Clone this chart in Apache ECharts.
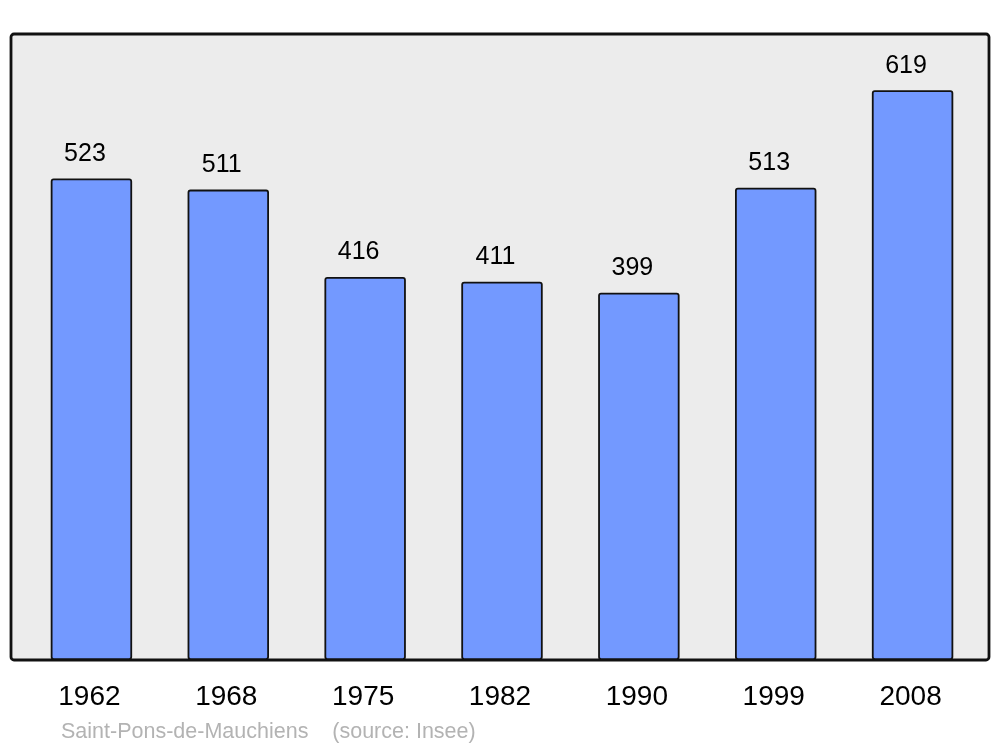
<!DOCTYPE html>
<html>
<head>
<meta charset="utf-8">
<script src="https://cdn.jsdelivr.net/npm/echarts@6/dist/echarts.min.js"></script>
<style>html,body{margin:0;padding:0;background:#fff;}#c{width:1000px;height:747px;}</style>
</head>
<body>
<div id="c"></div>
<script>
const categories = ['1962','1968','1975','1982','1990','1999','2008'];
const population = [523, 511, 416, 411, 399, 513, 619];
const footerText = 'Saint-Pons-de-Mauchiens    (source: Insee)';

const chart = echarts.init(document.getElementById('c'), null, {renderer: 'canvas'});
chart.setOption({
  backgroundColor: '#ffffff',
  animation: false,
  textStyle: {fontFamily: 'Liberation Sans, Arial, sans-serif'},
  graphic: [
    {type: 'rect', z: -10, shape: {x: 11, y: 34, width: 978, height: 626, r: 3},
     style: {fill: '#ececec', stroke: '#111', lineWidth: 2.8}},
    {type: 'text', left: 61, top: 721, z: 10,
     style: {text: footerText, fill: '#b3b3b3', font: '21.5px "Liberation Sans", Arial, sans-serif'}}
  ],
  grid: {left: 23, right: 19, top: 34, bottom: 87, containLabel: false},
  xAxis: {
    type: 'category', data: categories,
    axisLine: {show: false}, axisTick: {show: false},
    axisLabel: {color: '#000', fontSize: 28, margin: 23, fontFamily: 'Liberation Sans',
      padding: [0, 4, 0, 0]}
  },
  yAxis: {
    type: 'value', min: 0, max: 680,
    show: false, splitLine: {show: false}
  },
  series: [{
    type: 'bar', data: population, barWidth: '59.5%',
    itemStyle: {color: '#7399ff', borderColor: '#111', borderWidth: 1.8, borderRadius: 2},
    label: {show: true, position: 'top', distance: 12, offset: [-6.5, 0], color: '#000', fontSize: 25, fontFamily: 'Liberation Sans'}
  }]
});
</script>
</body>
</html>
